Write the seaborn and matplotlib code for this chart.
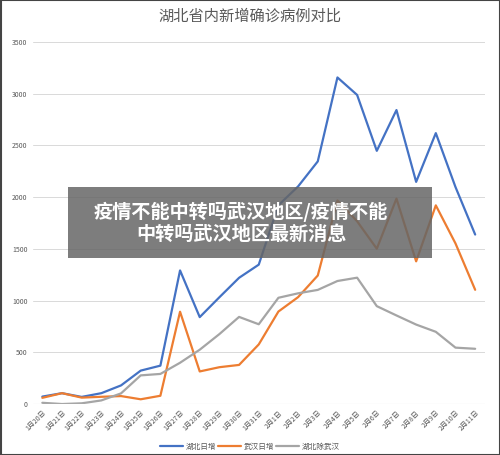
import matplotlib
matplotlib.use("Agg")
import matplotlib.pyplot as plt
import seaborn as sns
import pandas as pd

dates = ["1月20日","1月21日","1月22日","1月23日","1月24日","1月25日","1月26日","1月27日","1月28日","1月29日","1月30日","1月31日",
         "2月1日","2月2日","2月3日","2月4日","2月5日","2月6日","2月7日","2月8日","2月9日","2月10日","2月11日"]
hubei = [72,105,69,105,180,323,371,1291,840,1032,1220,1347,1921,2103,2345,3156,2987,2447,2841,2147,2618,2097,1638]
wuhan = [60,105,62,70,77,46,80,892,315,356,378,576,894,1033,1242,1967,1766,1501,1985,1379,1920,1552,1104]
other = [12,0,7,35,103,277,291,399,525,676,842,771,1027,1070,1103,1189,1221,946,856,768,698,545,534]
names = ["湖北日增","武汉日增","湖北除武汉"]

sns.set_theme(style="white")
plt.rcParams['font.family'] = ['Noto Sans CJK SC', 'DejaVu Sans']

df = pd.DataFrame({"date": dates*3, "val": hubei+wuhan+other,
                   "series": sum([[n]*len(dates) for n in names], [])})
df["x"] = list(range(len(dates)))*3

fig = plt.figure(figsize=(5, 4.55), dpi=100)
ax = fig.add_axes([0.065, 0.112, 0.905, 0.796])
sns.lineplot(data=df, x="x", y="val", hue="series", palette=["#4472c4", "#ed7d31", "#a5a5a5"],
             linewidth=1.6, ax=ax, legend=False)
ax.set_xlim(-0.5, len(dates)-0.5)
ax.set_ylim(0, 3500)
ax.set_yticks(range(0, 3501, 500))
ax.set_xticks(range(len(dates)))
ax.set_xticklabels(dates, rotation=45, ha="right", rotation_mode="anchor", fontsize=5, color="#595959")
ax.tick_params(axis="y", labelsize=5, labelcolor="#595959", length=0)
ax.tick_params(axis="x", length=0)
ax.grid(axis="y", color="#d9d9d9", linewidth=0.7)
for s in ax.spines.values():
    s.set_visible(False)
ax.axhline(0, color="#d9d9d9", linewidth=0.8)
ax.set_xlabel(""); ax.set_ylabel("")
fig.text(0.5, 0.965, "湖北省内新增确诊病例对比", ha="center", va="center", fontsize=11, color="#595959")

from matplotlib.lines import Line2D
handles = [Line2D([], [], color=c, lw=1.6) for c in ["#4472c4", "#ed7d31", "#a5a5a5"]]
fig.legend(handles, names, loc="center", bbox_to_anchor=(0.5, 0.018), ncol=3, frameon=False,
           fontsize=5.5, labelcolor="#595959", handlelength=3, columnspacing=0.3, handletextpad=0.3)

from matplotlib.patches import Rectangle
fig.patches.append(Rectangle((0.136, 0.432), 0.728, 0.158, transform=fig.transFigure,
                             facecolor="#666666", alpha=0.85, edgecolor="none", zorder=5))
fig.text(0.482, 0.511, "疫情不能中转吗武汉地区/疫情不能\n中转吗武汉地区最新消息", ha="center", va="center",
         fontsize=13.8, color="white", fontweight="bold", linespacing=1.2, zorder=6)
fig.patches.append(Rectangle((0.001, 0.001), 0.998, 0.998, transform=fig.transFigure,
                             facecolor="none", edgecolor="#444444", linewidth=1.5, zorder=7))
fig.savefig("out.png", dpi=100)
